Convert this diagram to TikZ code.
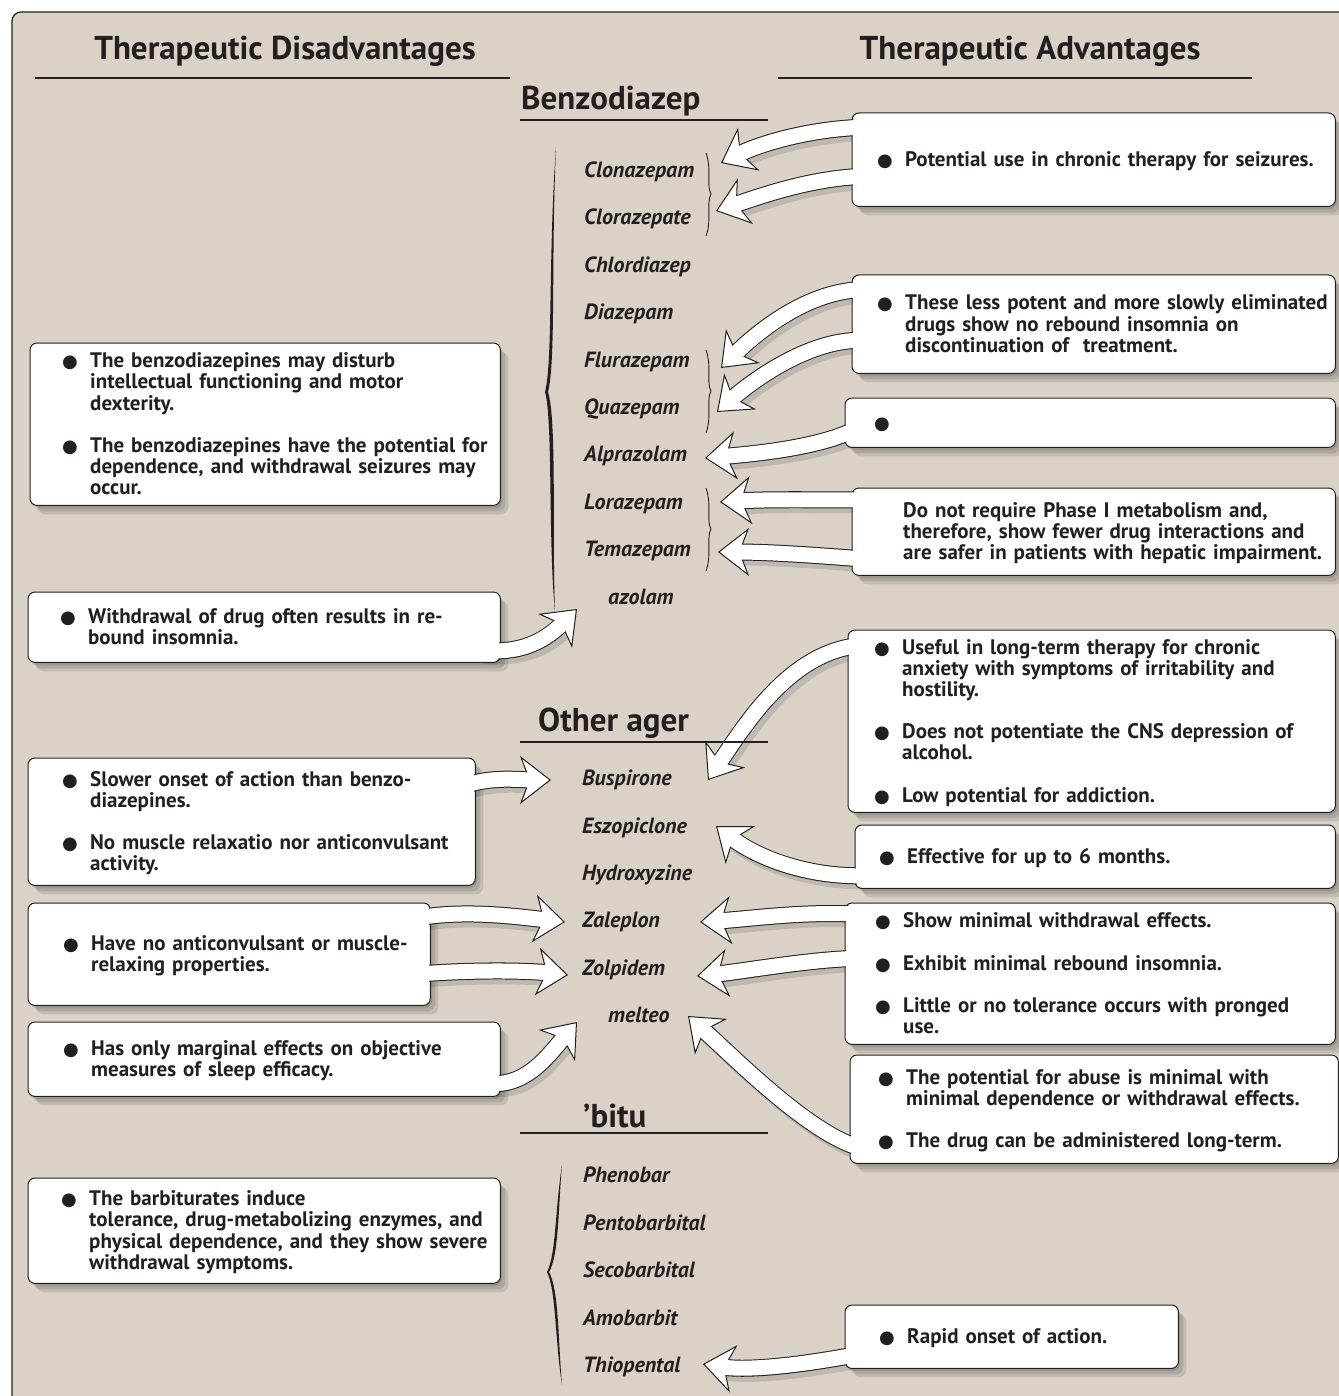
\documentclass[tikz,border=0pt]{standalone}
\usepackage{fontspec}
\setmainfont{PT Sans}
\newfontfamily\symfont{DejaVu Sans}
\usetikzlibrary{arrows.meta}
\setlength{\parindent}{0pt}
\definecolor{paper}{RGB}{218,210,198}
\definecolor{ink}{RGB}{35,31,32}
\newcommand{\boxfont}{\fontsize{21}{21}\selectfont\bfseries}
\newcommand{\drugfont}{\fontsize{22}{22}\selectfont\bfseries\itshape}
\newcommand{\headfont}{\fontsize{33}{36}\selectfont\bfseries}
\newcommand{\sectfont}{\fontsize{33}{36}\selectfont\bfseries}
\newcommand{\bl}{{\symfont\fontsize{18}{18}\selectfont ●}}
\newcommand{\pts}[1]{\begin{tabular}{@{}p{28pt}@{}l@{}}\rule{0pt}{20pt}#1\end{tabular}}
\pgfdeclarelayer{back}
\pgfdeclarelayer{shade}
\pgfdeclarelayer{boxes}
\pgfdeclarelayer{arrows}
\pgfdeclarelayer{inner}
\pgfsetlayers{back,shade,boxes,arrows,inner,main}
\tikzset{
  head/.style={font=\headfont, text=ink, inner sep=0pt},
  sect/.style={font=\sectfont, text=ink, inner sep=0pt, anchor=west},
  rule/.style={draw=ink, line width=2.4pt},
  drug/.style={anchor=west, inner sep=0pt, text height=15pt, text depth=4pt, font=\drugfont, text=ink},
  note/.style={anchor=north west, inner sep=0pt, align=left, font=\boxfont, text=ink},
  boxshape/.style={fill=white, draw=ink, line width=1pt, rounded corners=7pt},
  bandshade/.style={line width=17pt, draw=black, opacity=.12, shorten >=20pt, transform canvas={shift={(4pt,-5pt)}}},
  bandedge/.style={line width=17pt, draw=ink, shorten >=18pt},
  bandtip/.style={line width=.3pt, draw=white, -{Stealth[length=31pt, width=48pt, inset=9pt, color=ink, fill=white, line width=1pt]}},
  bandfill/.style={line width=15pt, draw=white, shorten >=17pt}
}
\newcommand{\noteframe}[1]{%
  \begin{pgfonlayer}{shade}
    \foreach \s in {3,6,9}
      {\fill[black, opacity=.1, rounded corners=8pt] ([shift={(\s-1,\s)}]#1.north west) rectangle ([shift={(\s-1,\s)}]#1.south east);}
  \end{pgfonlayer}
  \begin{pgfonlayer}{boxes}
    \draw[boxshape] (#1.north west) rectangle (#1.south east);
  \end{pgfonlayer}
  \begin{pgfonlayer}{inner}
    \fill[white, rounded corners=6pt] ([shift={(1.2,1.2)}]#1.north west) rectangle ([shift={(-1.2,-1.2)}]#1.south east);
  \end{pgfonlayer}}
\newcommand{\fatband}[1]{%
  \begin{pgfonlayer}{shade}
    \draw[bandshade] #1;
  \end{pgfonlayer}
  \begin{pgfonlayer}{arrows}
    \draw[bandedge] #1;
    \draw[bandtip] #1;
    \draw[bandfill] #1;
  \end{pgfonlayer}}
\begin{document}
\begin{tikzpicture}[x=1pt,y=-1pt]
\useasboundingbox (0,0) rectangle (1338,1396);
\begin{pgfonlayer}{back}
  \fill[white] (0,0) rectangle (1338,1396);
  \draw[ink, fill=paper, line width=1.2pt, rounded corners=9pt] (12,12) rectangle (1380,1440);
\end{pgfonlayer}

\node[head] (dis) at (285,51) {Therapeutic Disadvantages};
\node[head] (adv) at (1030,51) {Therapeutic Advantages};
\draw[rule] (35,78) -- (510,78);
\draw[rule] (778,78) -- (1252,78);

\node[sect] (benz) at (521,101) {Benzodiazep};
\node[sect] (other) at (538,723) {Other ager};
\node[sect] (barb) at (583,1116) {’bitu};
\draw[rule] (520,120) -- (768,120);
\draw[rule] (520,742) -- (768,742);
\draw[rule] (520,1133) -- (768,1133);

\foreach \n/\t/\x/\y in {clon/Clonazepam/584/172, cloz/Clorazepate/584/219, chlo/Chlordiazep/584/267,
    diaz/Diazepam/584/314, flur/Flurazepam/584/362, quaz/Quazepam/584/409, alpr/Alprazolam/584/456,
    lora/Lorazepam/584/504, tema/Temazepam/584/551, tria/azolam/608/599,
    busp/Buspirone/582/780, eszo/Eszopiclone/582/828, hydr/Hydroxyzine/582/875,
    zale/Zaleplon/582/922, zolp/Zolpidem/582/970, rame/melteo/608/1017,
    phen/Phenobar/583/1177, pent/Pentobarbital/583/1225, seco/Secobarbital/583/1272,
    amob/Amobarbit/583/1320, thio/Thiopental/583/1367}
  \node[drug] (\n) at (\x,\y) {\t};

\fill[ink] (556,147) .. controls (548,260) and (553,360) .. (545,392) .. controls (553,420) and (548,540) .. (555,612)
  .. controls (552,540) and (557,420) .. (548,392) .. controls (556,360) and (551,260) .. (556,147) -- cycle;
\fill[ink] (562,1165) .. controls (555,1210) and (556,1255) .. (547,1272) .. controls (556,1290) and (555,1340) .. (562,1385)
  .. controls (558,1340) and (559,1290) .. (549,1272) .. controls (559,1255) and (558,1210) .. (562,1165) -- cycle;
\foreach \y in {153,350,488}
  \draw[ink, line width=.9pt] (706,\y) .. controls (712,\y+17) and (706,\y+32) .. (711,\y+41) .. controls (706,\y+50) and (712,\y+67) .. (706,\y+83);

\node[note, text width=483pt, minimum height=93pt] (r1) at (852,113)
  {\hspace*{25pt}\pts{\bl & Potential use in chronic therapy for seizures.}};
\node[note, text width=483pt, minimum height=98pt] (r2) at (852,275)
  {\hspace*{25pt}\pts{\bl & These less potent and more slowly eliminated\\ & drugs show no rebound insomnia on\\ & discontinuation of~ treatment.}};
\node[note, text width=490pt, minimum height=49pt] (r3) at (845,398)
  {\hspace*{29pt}\pts{\bl & }};
\node[note, text width=483pt, minimum height=87pt] (r4) at (852,488)
  {\hspace*{51pt}\begin{tabular}{@{}l@{}}\rule{0pt}{20pt}Do not require Phase I metabolism and,\\therefore, show fewer drug interactions and\\are safer in patients with hepatic impairment.\end{tabular}};
\node[note, text width=487pt, minimum height=182pt] (r5) at (848,630)
  {\hspace*{26pt}\pts{\bl & Useful in long-term therapy for chronic\\ & anxiety with symptoms of irritability and\\ & hostility.\\[21pt]
   \bl & Does not potentiate the CNS depression of\\ & alcohol.\\[21pt] \bl & Low potential for addiction.}};
\node[note, text width=480pt, minimum height=63pt] (r6) at (855,825)
  {\hspace*{24pt}\pts{\bl & Effective for up to 6 months.}};
\node[note, text width=490pt, minimum height=141pt] (r7) at (845,903)
  {\hspace*{30pt}\pts{\bl & Show minimal withdrawal effects.\\[21pt] \bl & Exhibit minimal rebound insomnia.\\[21pt]
   \bl & Little or no tolerance occurs with pronged\\ & use.}};
\node[note, text width=488pt, minimum height=108pt] (r8) at (850,1055)
  {\hspace*{28pt}\pts{\bl & The potential for abuse is minimal with\\ & minimal dependence or withdrawal effects.\\[21pt]
   \bl & The drug can be administered long-term.}};
\node[note, text width=333pt, minimum height=63pt] (r9) at (845,1305)
  {\hspace*{34pt}\pts{\bl & Rapid onset of action.}};

\node[note, text width=470pt, minimum height=162pt] (l1) at (30,343)
  {\hspace*{32pt}\pts{\bl & The benzodiazepines may disturb\\ & intellectual functioning and motor\\ & dexterity.\\[21pt]
   \bl & The benzodiazepines have the potential for\\ & dependence, and withdrawal seizures may\\ & occur.}};
\node[note, text width=472pt, minimum height=70pt] (l2) at (28,592)
  {\hspace*{32pt}\pts{\bl & Withdrawal of drug often results in re-\\ & bound insomnia.}};
\node[note, text width=447pt, minimum height=127pt] (l3) at (28,758)
  {\hspace*{34pt}\pts{\bl & Slower onset of action than benzo-\\ & diazepines.\\[21pt] \bl & No muscle relaxatio nor anticonvulsant\\ & activity.}};
\node[note, text width=402pt, minimum height=102pt] (l4) at (28,903)
  {\hspace*{35pt}\pts{\bl & Have no anticonvulsant or muscle-\\ & relaxing properties.}};
\node[note, text width=472pt, minimum height=74pt] (l5) at (28,1022)
  {\hspace*{35pt}\pts{\bl & Has only marginal effects on objective\\ & measures of sleep efficacy.}};
\node[note, text width=472pt, minimum height=105pt] (l6) at (28,1178)
  {\hspace*{33pt}\pts{\bl & The barbiturates induce\\ & tolerance, drug-metabolizing enzymes, and\\ & physical dependence, and they show severe\\ & withdrawal symptoms.}};

\foreach \b in {r1,r2,r3,r4,r5,r6,r7,r8,r9,l1,l2,l3,l4,l5,l6}
  {\noteframe{\b}}

\fatband{([shift={(23,14)}]r1.north west) .. controls +(-60,0) and +(40,-20) .. ([shift={(137,-9)}]clon.west)}
\fatband{([shift={(23,63)}]r1.north west) .. controls +(-60,0) and +(45,-15) .. ([shift={(132,-8)}]cloz.west)}
\fatband{([shift={(23,15)}]r2.north west) .. controls +(-55,-5) and +(45,-45) .. ([shift={(137,6)}]flur.west)}
\fatband{([shift={(23,67)}]r2.north west) .. controls +(-50,-10) and +(45,-40) .. ([shift={(133,3)}]quaz.west)}
\fatband{([shift={(25,22)}]r3.north west) .. controls +(-30,25) and +(60,-5) .. ([shift={(121,2)}]alpr.west)}
\fatband{([shift={(23,12)}]r4.north west) .. controls +(-60,0) and +(50,-3) .. ([shift={(136,-2)}]lora.west)}
\fatband{([shift={(23,72)}]r4.north west) .. controls +(-60,-5) and +(50,0) .. ([shift={(134,1)}]tema.west)}
\fatband{([shift={(22,15)}]r5.north west) .. controls +(-75,0) and +(40,-60) .. ([shift={(126,0)}]busp.west)}
\fatband{([shift={(23,50)}]r6.north west) .. controls +(-60,5) and +(45,35) .. ([shift={(134,-2)}]eszo.west)}
\fatband{([shift={(25,12)}]r7.north west) .. controls +(-60,-5) and +(50,-3) .. ([shift={(118,0)}]zale.west)}
\fatband{([shift={(25,55)}]r7.north west) .. controls +(-55,0) and +(50,-5) .. ([shift={(115,6)}]zolp.west)}
\fatband{([shift={(25,95)}]r8.north west) .. controls +(-50,0) and +(50,45) .. ([shift={(80,-1)}]rame.west)}
\fatband{([shift={(25,47)}]r9.north west) .. controls +(-50,10) and +(50,8) .. ([shift={(120,-3)}]thio.west)}
\fatband{([shift={(-22,58)}]l2.north east) .. controls +(45,5) and +(-30,30) .. ([shift={(-31,10)}]tria.west)}
\fatband{([shift={(-23,32)}]l3.north east) .. controls +(35,-15) and +(-35,0) .. ([shift={(-31,0)}]busp.west)}
\fatband{([shift={(-22,17)}]l4.north east) .. controls +(50,-12) and +(-45,-5) .. ([shift={(-17,0)}]zale.west)}
\fatband{([shift={(-22,72)}]l4.north east) .. controls +(50,-5) and +(-45,-5) .. ([shift={(-14,5)}]zolp.west)}
\fatband{([shift={(-22,60)}]l5.north east) .. controls +(45,10) and +(-30,35) .. ([shift={(-31,5)}]rame.west)}
\end{tikzpicture}
\end{document}
